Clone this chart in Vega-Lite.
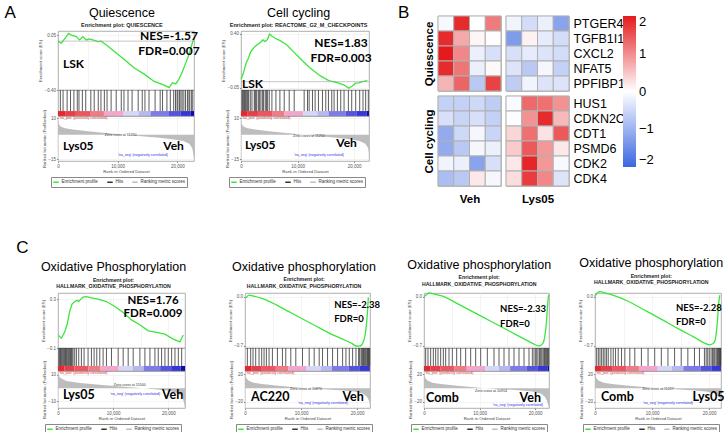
{
"$schema": "https://vega.github.io/schema/vega-lite/v6.json",
"padding": {"left": 4, "top": 4, "right": 2, "bottom": 2},
"background": "white",
"config": {
  "font": "Liberation Sans",
  "view": {"stroke": "#9a9a9a", "strokeWidth": 0.8},
  "axis": {"labelFontSize": 4.5, "titleFontSize": 4.2, "labelColor": "#555", "titleColor": "#444", "titleFontWeight": "normal", "tickSize": 1.5, "tickColor": "#888", "labelPadding": 1, "titlePadding": 1.5, "domain": false, "gridColor": "#ececec", "gridWidth": 0.6, "labelFlush": false, "labelOverlap": false},
  "title": {"font": "Liberation Sans", "color": "#000"},
  "legend": {"layout": {"bottom": {"anchor": "middle"}}}
},
"datasets": {
  "heat": [
    {"g":"Quiescence","gene":"PTGER4","c":"Veh","r":1,"v":-0.08},{"g":"Quiescence","gene":"PTGER4","c":"Veh","r":2,"v":1.85},{"g":"Quiescence","gene":"PTGER4","c":"Veh","r":3,"v":0.0},{"g":"Quiescence","gene":"PTGER4","c":"Veh","r":4,"v":1.15},
    {"g":"Quiescence","gene":"TGFB1I1","c":"Veh","r":1,"v":1.85},{"g":"Quiescence","gene":"TGFB1I1","c":"Veh","r":2,"v":0.75},{"g":"Quiescence","gene":"TGFB1I1","c":"Veh","r":3,"v":0.08},{"g":"Quiescence","gene":"TGFB1I1","c":"Veh","r":4,"v":0.02},
    {"g":"Quiescence","gene":"CXCL2","c":"Veh","r":1,"v":2.0},{"g":"Quiescence","gene":"CXCL2","c":"Veh","r":2,"v":1.05},{"g":"Quiescence","gene":"CXCL2","c":"Veh","r":3,"v":-0.2},{"g":"Quiescence","gene":"CXCL2","c":"Veh","r":4,"v":-0.4},
    {"g":"Quiescence","gene":"NFAT5","c":"Veh","r":1,"v":1.85},{"g":"Quiescence","gene":"NFAT5","c":"Veh","r":2,"v":1.2},{"g":"Quiescence","gene":"NFAT5","c":"Veh","r":3,"v":-0.2},{"g":"Quiescence","gene":"NFAT5","c":"Veh","r":4,"v":0.05},
    {"g":"Quiescence","gene":"PPFIBP1","c":"Veh","r":1,"v":0.65},{"g":"Quiescence","gene":"PPFIBP1","c":"Veh","r":2,"v":1.35},{"g":"Quiescence","gene":"PPFIBP1","c":"Veh","r":3,"v":-0.7},{"g":"Quiescence","gene":"PPFIBP1","c":"Veh","r":4,"v":1.65},
    {"g":"Quiescence","gene":"PTGER4","c":"Lys05","r":1,"v":-0.15},{"g":"Quiescence","gene":"PTGER4","c":"Lys05","r":2,"v":-0.45},{"g":"Quiescence","gene":"PTGER4","c":"Lys05","r":3,"v":-0.2},{"g":"Quiescence","gene":"PTGER4","c":"Lys05","r":4,"v":-1.2},
    {"g":"Quiescence","gene":"TGFB1I1","c":"Lys05","r":1,"v":-1.3},{"g":"Quiescence","gene":"TGFB1I1","c":"Lys05","r":2,"v":0.12},{"g":"Quiescence","gene":"TGFB1I1","c":"Lys05","r":3,"v":-0.25},{"g":"Quiescence","gene":"TGFB1I1","c":"Lys05","r":4,"v":-0.45},
    {"g":"Quiescence","gene":"CXCL2","c":"Lys05","r":1,"v":-0.4},{"g":"Quiescence","gene":"CXCL2","c":"Lys05","r":2,"v":-0.25},{"g":"Quiescence","gene":"CXCL2","c":"Lys05","r":3,"v":-0.35},{"g":"Quiescence","gene":"CXCL2","c":"Lys05","r":4,"v":-0.45},
    {"g":"Quiescence","gene":"NFAT5","c":"Lys05","r":1,"v":-0.35},{"g":"Quiescence","gene":"NFAT5","c":"Lys05","r":2,"v":-0.7},{"g":"Quiescence","gene":"NFAT5","c":"Lys05","r":3,"v":-0.1},{"g":"Quiescence","gene":"NFAT5","c":"Lys05","r":4,"v":-0.6},
    {"g":"Quiescence","gene":"PPFIBP1","c":"Lys05","r":1,"v":-0.65},{"g":"Quiescence","gene":"PPFIBP1","c":"Lys05","r":2,"v":-0.15},{"g":"Quiescence","gene":"PPFIBP1","c":"Lys05","r":3,"v":-0.35},{"g":"Quiescence","gene":"PPFIBP1","c":"Lys05","r":4,"v":-0.35},
    {"g":"Cell cycling","gene":"HUS1","c":"Veh","r":1,"v":-0.6},{"g":"Cell cycling","gene":"HUS1","c":"Veh","r":2,"v":-0.6},{"g":"Cell cycling","gene":"HUS1","c":"Veh","r":3,"v":-0.5},{"g":"Cell cycling","gene":"HUS1","c":"Veh","r":4,"v":-0.65},
    {"g":"Cell cycling","gene":"CDKN2C","c":"Veh","r":1,"v":-0.4},{"g":"Cell cycling","gene":"CDKN2C","c":"Veh","r":2,"v":-0.55},{"g":"Cell cycling","gene":"CDKN2C","c":"Veh","r":3,"v":-0.4},{"g":"Cell cycling","gene":"CDKN2C","c":"Veh","r":4,"v":-0.6},
    {"g":"Cell cycling","gene":"CDT1","c":"Veh","r":1,"v":-1.1},{"g":"Cell cycling","gene":"CDT1","c":"Veh","r":2,"v":-0.5},{"g":"Cell cycling","gene":"CDT1","c":"Veh","r":3,"v":-0.1},{"g":"Cell cycling","gene":"CDT1","c":"Veh","r":4,"v":-0.55},
    {"g":"Cell cycling","gene":"PSMD6","c":"Veh","r":1,"v":-1.1},{"g":"Cell cycling","gene":"PSMD6","c":"Veh","r":2,"v":-0.7},{"g":"Cell cycling","gene":"PSMD6","c":"Veh","r":3,"v":-0.1},{"g":"Cell cycling","gene":"PSMD6","c":"Veh","r":4,"v":-0.2},
    {"g":"Cell cycling","gene":"CDK2","c":"Veh","r":1,"v":-0.15},{"g":"Cell cycling","gene":"CDK2","c":"Veh","r":2,"v":-0.2},{"g":"Cell cycling","gene":"CDK2","c":"Veh","r":3,"v":-1.2},{"g":"Cell cycling","gene":"CDK2","c":"Veh","r":4,"v":-0.4},
    {"g":"Cell cycling","gene":"CDK4","c":"Veh","r":1,"v":-0.85},{"g":"Cell cycling","gene":"CDK4","c":"Veh","r":2,"v":-0.7},{"g":"Cell cycling","gene":"CDK4","c":"Veh","r":3,"v":0.2},{"g":"Cell cycling","gene":"CDK4","c":"Veh","r":4,"v":-0.1},
    {"g":"Cell cycling","gene":"HUS1","c":"Lys05","r":1,"v":-0.05},{"g":"Cell cycling","gene":"HUS1","c":"Lys05","r":2,"v":1.3},{"g":"Cell cycling","gene":"HUS1","c":"Lys05","r":3,"v":1.25},{"g":"Cell cycling","gene":"HUS1","c":"Lys05","r":4,"v":0.95},
    {"g":"Cell cycling","gene":"CDKN2C","c":"Lys05","r":1,"v":-0.02},{"g":"Cell cycling","gene":"CDKN2C","c":"Lys05","r":2,"v":0.95},{"g":"Cell cycling","gene":"CDKN2C","c":"Lys05","r":3,"v":1.85},{"g":"Cell cycling","gene":"CDKN2C","c":"Lys05","r":4,"v":0.6},
    {"g":"Cell cycling","gene":"CDT1","c":"Lys05","r":1,"v":0.35},{"g":"Cell cycling","gene":"CDT1","c":"Lys05","r":2,"v":1.25},{"g":"Cell cycling","gene":"CDT1","c":"Lys05","r":3,"v":0.25},{"g":"Cell cycling","gene":"CDT1","c":"Lys05","r":4,"v":1.45},
    {"g":"Cell cycling","gene":"PSMD6","c":"Lys05","r":1,"v":0.45},{"g":"Cell cycling","gene":"PSMD6","c":"Lys05","r":2,"v":1.45},{"g":"Cell cycling","gene":"PSMD6","c":"Lys05","r":3,"v":0.9},{"g":"Cell cycling","gene":"PSMD6","c":"Lys05","r":4,"v":0.2},
    {"g":"Cell cycling","gene":"CDK2","c":"Lys05","r":1,"v":0.2},{"g":"Cell cycling","gene":"CDK2","c":"Lys05","r":2,"v":1.9},{"g":"Cell cycling","gene":"CDK2","c":"Lys05","r":3,"v":0.9},{"g":"Cell cycling","gene":"CDK2","c":"Lys05","r":4,"v":-0.08},
    {"g":"Cell cycling","gene":"CDK4","c":"Lys05","r":1,"v":0.3},{"g":"Cell cycling","gene":"CDK4","c":"Lys05","r":2,"v":1.7},{"g":"Cell cycling","gene":"CDK4","c":"Lys05","r":3,"v":1.05},{"g":"Cell cycling","gene":"CDK4","c":"Lys05","r":4,"v":-0.35}
  ],
  "barA": [{"s":0,"e":1200,"v":1.0},{"s":1200,"e":3000,"v":0.9},{"s":3000,"e":5500,"v":0.8},{"s":5500,"e":7700,"v":0.65},{"s":7700,"e":11000,"v":0.35},{"s":11000,"e":13500,"v":0.0},{"s":13500,"e":15500,"v":-0.2},{"s":15500,"e":18500,"v":-0.45},{"s":18500,"e":20500,"v":-0.65},{"s":20500,"e":22200,"v":-0.8},{"s":22200,"e":23000,"v":-1.0}],
  "rankA": [{"rank":0,"m":9},{"rank":150,"m":6.5},{"rank":500,"m":5},{"rank":1200,"m":4},{"rank":2500,"m":3.2},{"rank":5000,"m":2.2},{"rank":8000,"m":1.1},{"rank":11250,"m":0},{"rank":14000,"m":-0.9},{"rank":17000,"m":-1.8},{"rank":19500,"m":-2.8},{"rank":21000,"m":-3.8},{"rank":22000,"m":-5.5},{"rank":22500,"m":-8},{"rank":22800,"m":-14}],
  "rankC1": [{"rank":0,"m":12},{"rank":300,"m":8},{"rank":1500,"m":5.5},{"rank":4000,"m":4},{"rank":8000,"m":2.5},{"rank":12000,"m":1},{"rank":15500,"m":0},{"rank":18000,"m":-1},{"rank":20000,"m":-2},{"rank":21500,"m":-3.5},{"rank":22500,"m":-6},{"rank":23000,"m":-14}],
  "rankC": [{"rank":0,"m":24},{"rank":200,"m":15},{"rank":600,"m":11},{"rank":1500,"m":8},{"rank":3000,"m":6},{"rank":6000,"m":3.5},{"rank":9000,"m":1.2},{"rank":10900,"m":0},{"rank":14000,"m":-1.5},{"rank":17000,"m":-3},{"rank":19500,"m":-5},{"rank":21000,"m":-8},{"rank":21800,"m":-13},{"rank":22100,"m":-18},{"rank":22500,"m":-28}],
  "esA1": [{"rank":0,"es":0.0},{"rank":111,"es":-0.004},{"rank":556,"es":-0.017},{"rank":1390,"es":0.037},{"rank":1779,"es":0.063},{"rank":2224,"es":0.05},{"rank":3058,"es":0.037},{"rank":3614,"es":0.01},{"rank":4170,"es":0.037},{"rank":4726,"es":0.01},{"rank":5282,"es":0.018},{"rank":5838,"es":0.01},{"rank":6672,"es":-0.004},{"rank":7228,"es":0.0},{"rank":8062,"es":-0.03},{"rank":9452,"es":-0.085},{"rank":11120,"es":-0.15},{"rank":12788,"es":-0.22},{"rank":14456,"es":-0.27},{"rank":16124,"es":-0.33},{"rank":17792,"es":-0.36},{"rank":18626,"es":-0.38},{"rank":19182,"es":-0.34},{"rank":19738,"es":-0.35},{"rank":20294,"es":-0.31},{"rank":20850,"es":-0.25},{"rank":21406,"es":-0.18},{"rank":21962,"es":-0.11},{"rank":22240,"es":-0.06},{"rank":22685,"es":0.01}],
  "esA2": [{"rank":0,"es":0.02},{"rank":415,"es":0.07},{"rank":890,"es":0.154},{"rank":1305,"es":0.196},{"rank":1720,"es":0.25},{"rank":2194,"es":0.28},{"rank":2787,"es":0.308},{"rank":3380,"es":0.327},{"rank":3855,"es":0.35},{"rank":4270,"es":0.336},{"rank":4685,"es":0.355},{"rank":5041,"es":0.40},{"rank":5456,"es":0.383},{"rank":6049,"es":0.364},{"rank":6938,"es":0.344},{"rank":8124,"es":0.308},{"rank":9310,"es":0.25},{"rank":10793,"es":0.18},{"rank":12275,"es":0.112},{"rank":14054,"es":0.048},{"rank":15537,"es":0.009},{"rank":17019,"es":-0.008},{"rank":18205,"es":-0.027},{"rank":19095,"es":-0.055},{"rank":19688,"es":-0.036},{"rank":20281,"es":-0.013},{"rank":20874,"es":-0.01},{"rank":21467,"es":0.0},{"rank":22356,"es":0.009}],
  "esC1": [{"rank":0,"es":0.0},{"rank":182,"es":0.0},{"rank":605,"es":-0.02},{"rank":1210,"es":0.03},{"rank":1694,"es":0.1},{"rank":2118,"es":0.2},{"rank":2541,"es":0.26},{"rank":3025,"es":0.28},{"rank":3509,"es":0.29},{"rank":3751,"es":0.28},{"rank":4114,"es":0.30},{"rank":4538,"es":0.316},{"rank":5143,"es":0.32},{"rank":6050,"es":0.31},{"rank":7260,"es":0.30},{"rank":8773,"es":0.28},{"rank":10285,"es":0.24},{"rank":11798,"es":0.19},{"rank":13310,"es":0.13},{"rank":14823,"es":0.09},{"rank":16335,"es":0.04},{"rank":17848,"es":0.027},{"rank":19360,"es":0.013},{"rank":20873,"es":-0.027},{"rank":22083,"es":-0.05},{"rank":22385,"es":-0.02},{"rank":22688,"es":0.005}],
  "esC2": [{"rank":0,"es":-0.01},{"rank":177,"es":-0.015},{"rank":649,"es":0.02},{"rank":1357,"es":0.01},{"rank":3127,"es":-0.03},{"rank":5487,"es":-0.115},{"rank":7847,"es":-0.215},{"rank":10207,"es":-0.315},{"rank":12567,"es":-0.415},{"rank":14927,"es":-0.515},{"rank":17287,"es":-0.6},{"rank":19057,"es":-0.665},{"rank":19942,"es":-0.705},{"rank":20532,"es":-0.70},{"rank":21122,"es":-0.64},{"rank":21535,"es":-0.49},{"rank":21830,"es":-0.24},{"rank":22007,"es":-0.015}],
  "esC3": [{"rank":0,"es":0.0},{"rank":300,"es":0.015},{"rank":900,"es":0.05},{"rank":1800,"es":0.035},{"rank":3600,"es":0.0},{"rank":6000,"es":-0.1},{"rank":8400,"es":-0.2},{"rank":10800,"es":-0.3},{"rank":13200,"es":-0.4},{"rank":15600,"es":-0.5},{"rank":18000,"es":-0.6},{"rank":19800,"es":-0.675},{"rank":20700,"es":-0.70},{"rank":21300,"es":-0.675},{"rank":21720,"es":-0.575},{"rank":22080,"es":-0.325},{"rank":22320,"es":-0.05},{"rank":22440,"es":0.025}],
  "esC4": [{"rank":0,"es":0.0},{"rank":116,"es":0.02},{"rank":873,"es":0.07},{"rank":1746,"es":0.05},{"rank":3492,"es":0.01},{"rank":5820,"es":-0.067},{"rank":8148,"es":-0.17},{"rank":10476,"es":-0.27},{"rank":12804,"es":-0.376},{"rank":15132,"es":-0.48},{"rank":17460,"es":-0.58},{"rank":19206,"es":-0.66},{"rank":20079,"es":-0.685},{"rank":20661,"es":-0.67},{"rank":21068,"es":-0.62},{"rank":21418,"es":-0.4},{"rank":21709,"es":-0.09},{"rank":21883,"es":0.02}],
  "hitsA1": [{"rank":397},{"rank":851},{"rank":1531},{"rank":2099},{"rank":2666},{"rank":3233},{"rank":3516},{"rank":4084},{"rank":4651},{"rank":5502},{"rank":6069},{"rank":6749},{"rank":7203},{"rank":7770},{"rank":8224},{"rank":8904},{"rank":9755},{"rank":10606},{"rank":11060},{"rank":11740},{"rank":12421},{"rank":13442},{"rank":14122},{"rank":14576},{"rank":15257},{"rank":16278},{"rank":17129},{"rank":17526},{"rank":18263},{"rank":18830},{"rank":19397},{"rank":19700},{"rank":19964},{"rank":20100},{"rank":20361},{"rank":20600},{"rank":20815},{"rank":21100},{"rank":21382},{"rank":21700},{"rank":21949},{"rank":22100},{"rank":22403},{"rank":22600}],
  "hitsA2": [{"rank":176},{"rank":300},{"rank":471},{"rank":600},{"rank":765},{"rank":900},{"rank":1059},{"rank":1200},{"rank":1353},{"rank":1647},{"rank":1941},{"rank":2353},{"rank":2500},{"rank":2647},{"rank":2800},{"rank":3118},{"rank":3300},{"rank":3530},{"rank":3824},{"rank":4000},{"rank":4295},{"rank":4500},{"rank":4707},{"rank":5001},{"rank":5471},{"rank":6177},{"rank":6883},{"rank":7648},{"rank":8531},{"rank":9413},{"rank":11178},{"rank":11766},{"rank":12060},{"rank":12649},{"rank":13119},{"rank":13708},{"rank":14414},{"rank":15002},{"rank":15473},{"rank":16061},{"rank":16473},{"rank":17061},{"rank":17649},{"rank":18237},{"rank":19002},{"rank":19591},{"rank":20297},{"rank":21003},{"rank":21591},{"rank":22061},{"rank":22532}],
  "hitsC1": [{"rank":150},{"rank":303},{"rank":450},{"rank":605},{"rank":750},{"rank":908},{"rank":1050},{"rank":1211},{"rank":1350},{"rank":1513},{"rank":1650},{"rank":1816},{"rank":1950},{"rank":2118},{"rank":2250},{"rank":2421},{"rank":2550},{"rank":2724},{"rank":3026},{"rank":3329},{"rank":3753},{"rank":4237},{"rank":4721},{"rank":5447},{"rank":6053},{"rank":6537},{"rank":7021},{"rank":7566},{"rank":8171},{"rank":8777},{"rank":9684},{"rank":10895},{"rank":11803},{"rank":12711},{"rank":13619},{"rank":14829},{"rank":15737},{"rank":16645},{"rank":17553},{"rank":18158},{"rank":18763},{"rank":19369},{"rank":19974},{"rank":20580},{"rank":21185},{"rank":21790},{"rank":22396}],
  "hitsC2": [{"rank":417},{"rank":1014},{"rank":1431},{"rank":1908},{"rank":2504},{"rank":2981},{"rank":3399},{"rank":3816},{"rank":4293},{"rank":4890},{"rank":5784},{"rank":6678},{"rank":7275},{"rank":8169},{"rank":9064},{"rank":10256},{"rank":11449},{"rank":12343},{"rank":13237},{"rank":13833},{"rank":14728},{"rank":15622},{"rank":16517},{"rank":17411},{"rank":18007},{"rank":18604},{"rank":19200},{"rank":19796},{"rank":20274},{"rank":20400},{"rank":20691},{"rank":20850},{"rank":20990},{"rank":21150},{"rank":21288},{"rank":21450},{"rank":21586},{"rank":21750},{"rank":21885},{"rank":21950},{"rank":22063},{"rank":22150},{"rank":22250}],
  "hitsC3": [{"rank":300},{"rank":720},{"rank":1200},{"rank":1680},{"rank":2100},{"rank":2520},{"rank":3000},{"rank":3480},{"rank":3900},{"rank":4500},{"rank":5100},{"rank":5880},{"rank":6600},{"rank":7500},{"rank":8400},{"rank":9300},{"rank":10200},{"rank":11400},{"rank":12600},{"rank":13500},{"rank":14400},{"rank":15300},{"rank":16200},{"rank":17100},{"rank":18000},{"rank":18900},{"rank":19500},{"rank":19800},{"rank":20100},{"rank":20300},{"rank":20520},{"rank":20800},{"rank":21000},{"rank":21200},{"rank":21420},{"rank":21600},{"rank":21720},{"rank":21900},{"rank":22020},{"rank":22200},{"rank":22320},{"rank":22450}],
  "hitsC4": [{"rank":291},{"rank":582},{"rank":872},{"rank":1163},{"rank":1454},{"rank":1745},{"rank":2036},{"rank":2326},{"rank":2792},{"rank":3199},{"rank":3606},{"rank":4071},{"rank":4653},{"rank":5234},{"rank":6107},{"rank":6979},{"rank":8142},{"rank":9306},{"rank":10469},{"rank":11632},{"rank":12795},{"rank":13958},{"rank":15122},{"rank":16285},{"rank":17448},{"rank":18320},{"rank":19193},{"rank":19500},{"rank":19774},{"rank":20050},{"rank":20356},{"rank":20600},{"rank":20821},{"rank":21000},{"rank":21228},{"rank":21400},{"rank":21519},{"rank":21650},{"rank":21810},{"rank":21900},{"rank":21984},{"rank":22050}]
},
"resolve": {"scale": {"color": "independent", "fill": "independent"}},
"align": "none",
"spacing": 34,
"vconcat": [
 {
  "resolve": {"scale": {"color": "independent", "fill": "independent"}},
  "align": "none",
  "spacing": 24,
  "hconcat": [
   {
    "resolve": {"scale": {"color": "independent", "fill": "independent"}},
    "spacing": 21,
    "hconcat": [
     {
      "title": {"text": "A", "orient": "left", "anchor": "end", "angle": 0, "baseline": "top", "align": "right", "fontSize": 17, "fontWeight": "normal", "offset": 11},
      "vconcat": [
       {
        "spacing": 0,
        "bounds": "flush",
        "vconcat": [
         {"width": 136, "height": 26, "view": {"stroke": null}, "layer": [
          {"data": {"values": [{}]}, "mark": {"type": "text", "fontSize": 12.5, "align": "center", "baseline": "middle", "color": "#000"}, "encoding": {"x": {"datum": 0.47, "type": "quantitative", "scale": {"domain": [0, 1]}, "axis": null}, "y": {"datum": 0.7, "type": "quantitative", "scale": {"domain": [0, 1]}, "axis": null}, "text": {"value": "Quiescence"}}},
          {"data": {"values": [{}]}, "mark": {"type": "text", "fontSize": 5.5, "fontWeight": "bold", "align": "center", "baseline": "middle", "color": "#222"}, "encoding": {"x": {"datum": 0.47}, "y": {"datum": 0.22}, "text": {"value": "Enrichment plot: QUIESCENCE"}}}
         ]},
         {"width": 136, "height": 59, "layer": [
          {"data": {"name": "esA1"}, "mark": {"type": "line", "strokeWidth": 1.3}, "encoding": {
            "x": {"field": "rank", "type": "quantitative", "scale": {"domain": [0, 22800], "nice": false, "zero": false}, "axis": {"labels": false, "ticks": false, "title": null, "grid": true, "values": [5000, 10000, 15000, 20000]}},
            "y": {"field": "es", "type": "quantitative", "scale": {"domain": [-0.4, 0.083], "nice": false, "zero": false}, "axis": {"title": "Enrichment score (ES)", "values": [0.05, 0, -0.05, -0.1, -0.15, -0.2, -0.25, -0.3, -0.35, -0.4], "format": ".2f", "grid": true, "labelOverlap": false}},
            "color": {"datum": "Enrichment profile", "type": "nominal", "scale": {"domain": ["Enrichment profile", "Hits", "Ranking metric scores"], "range": ["#3ce63c", "#333333", "#bdbdbd"]}, "legend": {"orient": "bottom", "direction": "horizontal", "title": null, "symbolType": "stroke", "symbolSize": 30, "symbolStrokeWidth": 1.5, "labelFontSize": 4.5, "labelColor": "#333", "strokeColor": "#888", "padding": 1.5, "columnPadding": 5, "labelOffset": 2, "offset": 2, "labelLimit": 80}}}},
          {"data": {"values": [{}]}, "mark": {"type": "rule", "color": "#a0a0a0", "strokeWidth": 0.6}, "encoding": {"y": {"datum": 0, "type": "quantitative"}}},
          {"data": {"values": [{}]}, "mark": {"type": "text", "font": "Lato", "fontWeight": "bold", "fontSize": 12, "align": "center", "baseline": "middle"}, "encoding": {"x": {"datum": 18600}, "y": {"datum": 0.042}, "text": {"value": "NES=-1.57"}}},
          {"data": {"values": [{}]}, "mark": {"type": "text", "font": "Lato", "fontWeight": "bold", "fontSize": 12, "align": "center", "baseline": "middle"}, "encoding": {"x": {"datum": 18600}, "y": {"datum": -0.081}, "text": {"value": "FDR=0.007"}}},
          {"data": {"values": [{}]}, "mark": {"type": "text", "font": "Lato", "fontWeight": "bold", "fontSize": 12, "align": "left", "baseline": "middle"}, "encoding": {"x": {"datum": 840}, "y": {"datum": -0.187}, "text": {"value": "LSK"}}}
         ]},
         {"width": 136, "height": 26, "layer": [
          {"data": {"name": "barA"}, "mark": {"type": "rect", "clip": true}, "encoding": {"x": {"field": "s", "type": "quantitative", "scale": {"domain": [0, 22800], "nice": false, "zero": false}, "axis": null}, "x2": {"field": "e"}, "y": {"datum": 0, "type": "quantitative", "scale": {"domain": [0, 1], "nice": false}, "axis": null}, "y2": {"datum": 0.19}, "fill": {"field": "v", "type": "quantitative", "scale": {"domain": [-1, -0.8, -0.5, -0.2, 0, 0.35, 0.65, 1], "range": ["#0b0bb0", "#3535d8", "#7070e6", "#b8b8f0", "#d6d6f6", "#f2a6cc", "#f07a86", "#e8262e"], "interpolate": "rgb"}, "legend": null}}},
          {"data": {"name": "hitsA1"}, "mark": {"type": "rule", "strokeWidth": 0.8}, "encoding": {"x": {"field": "rank", "type": "quantitative"}, "y": {"datum": 0.19}, "y2": {"datum": 1}, "color": {"datum": "Hits", "type": "nominal"}}}
         ]},
         {"width": 136, "height": 45, "layer": [
          {"data": {"name": "rankA"}, "mark": {"type": "area", "clip": true}, "encoding": {
            "x": {"field": "rank", "type": "quantitative", "scale": {"domain": [0, 22800], "nice": false, "zero": false}, "axis": {"title": "Rank in Ordered Dataset", "values": [0, 5000, 10000, 15000, 20000], "format": ",d", "grid": true, "labelOverlap": false}},
            "y": {"field": "m", "type": "quantitative", "scale": {"domain": [-16, 11.5], "nice": false, "zero": false}, "axis": {"title": "Ranked list metric (PreRanked)", "values": [10, 5, 0, -5, -10, -15], "format": "d", "grid": true, "labelOverlap": false}},
            "y2": {"datum": 0},
            "color": {"datum": "Ranking metric scores", "type": "nominal"}}},
          {"data": {"values": [{}]}, "mark": {"type": "text", "fontSize": 3.6, "align": "left", "baseline": "top", "color": "#e03030"}, "encoding": {"x": {"datum": 200}, "y": {"datum": 11.2}, "text": {"value": "'na_pos' (positively correlated)"}}},
          {"data": {"values": [{}]}, "mark": {"type": "text", "fontSize": 3.6, "align": "center", "baseline": "middle", "color": "#333"}, "encoding": {"x": {"datum": 10500}, "y": {"datum": -0.3}, "text": {"value": "Zero cross at 11250"}}},
          {"data": {"values": [{}]}, "mark": {"type": "text", "fontSize": 3.6, "align": "center", "baseline": "middle", "color": "#3030e0"}, "encoding": {"x": {"datum": 14250}, "y": {"datum": -12.3}, "text": {"value": "'na_neg' (negatively correlated)"}}},
          {"data": {"values": [{}]}, "mark": {"type": "text", "font": "Lato", "fontWeight": "bold", "fontSize": 12, "align": "left", "baseline": "middle"}, "encoding": {"x": {"datum": 840}, "y": {"datum": -6.8}, "text": {"value": "Lys05"}}},
          {"data": {"values": [{}]}, "mark": {"type": "text", "font": "Lato", "fontWeight": "bold", "fontSize": 12, "align": "right", "baseline": "middle"}, "encoding": {"x": {"datum": 21100}, "y": {"datum": -6.8}, "text": {"value": "Veh"}}}
         ]}
        ]
       }
      ]
     },
     {
      "spacing": 0,
      "bounds": "flush",
      "vconcat": [
       {"width": 128, "height": 26, "view": {"stroke": null}, "layer": [
        {"data": {"values": [{}]}, "mark": {"type": "text", "fontSize": 12.5, "align": "center", "baseline": "middle", "color": "#000"}, "encoding": {"x": {"datum": 0.45, "type": "quantitative", "scale": {"domain": [0, 1]}, "axis": null}, "y": {"datum": 0.7, "type": "quantitative", "scale": {"domain": [0, 1]}, "axis": null}, "text": {"value": "Cell cycling"}}},
        {"data": {"values": [{}]}, "mark": {"type": "text", "fontSize": 5.5, "fontWeight": "bold", "align": "center", "baseline": "middle", "color": "#222"}, "encoding": {"x": {"datum": 0.45}, "y": {"datum": 0.22}, "text": {"value": "Enrichment plot: REACTOME_G2_M_CHECKPOINTS"}}}
       ]},
       {"width": 128, "height": 59, "layer": [
        {"data": {"name": "esA2"}, "mark": {"type": "line", "strokeWidth": 1.3}, "encoding": {
          "x": {"field": "rank", "type": "quantitative", "scale": {"domain": [0, 22650], "nice": false, "zero": false}, "axis": {"labels": false, "ticks": false, "title": null, "grid": true, "values": [5000, 10000, 15000, 20000]}},
          "y": {"field": "es", "type": "quantitative", "scale": {"domain": [-0.07, 0.425], "nice": false, "zero": false}, "axis": {"title": "Enrichment score (ES)", "values": [0.4, 0.35, 0.3, 0.25, 0.2, 0.15, 0.1, 0.05, 0, -0.05], "format": ".2f", "grid": true, "labelOverlap": false}},
          "color": {"datum": "Enrichment profile", "type": "nominal", "scale": {"domain": ["Enrichment profile", "Hits", "Ranking metric scores"], "range": ["#3ce63c", "#333333", "#bdbdbd"]}, "legend": {"orient": "bottom", "direction": "horizontal", "title": null, "symbolType": "stroke", "symbolSize": 30, "symbolStrokeWidth": 1.5, "labelFontSize": 4.5, "labelColor": "#333", "strokeColor": "#888", "padding": 1.5, "columnPadding": 5, "labelOffset": 2, "offset": 2, "labelLimit": 80}}}},
        {"data": {"values": [{}]}, "mark": {"type": "rule", "color": "#a0a0a0", "strokeWidth": 0.6}, "encoding": {"y": {"datum": 0, "type": "quantitative"}}},
        {"data": {"values": [{}]}, "mark": {"type": "text", "font": "Lato", "fontWeight": "bold", "fontSize": 12, "align": "center", "baseline": "middle"}, "encoding": {"x": {"datum": 17700}, "y": {"datum": 0.324}, "text": {"value": "NES=1.83"}}},
        {"data": {"values": [{}]}, "mark": {"type": "text", "font": "Lato", "fontWeight": "bold", "fontSize": 12, "align": "center", "baseline": "middle"}, "encoding": {"x": {"datum": 17700}, "y": {"datum": 0.198}, "text": {"value": "FDR=0.003"}}},
        {"data": {"values": [{}]}, "mark": {"type": "text", "font": "Lato", "fontWeight": "bold", "fontSize": 12, "align": "left", "baseline": "middle"}, "encoding": {"x": {"datum": 180}, "y": {"datum": -0.02}, "text": {"value": "LSK"}}}
       ]},
       {"width": 128, "height": 26, "layer": [
        {"data": {"name": "barA"}, "mark": {"type": "rect", "clip": true}, "encoding": {"x": {"field": "s", "type": "quantitative", "scale": {"domain": [0, 22650], "nice": false, "zero": false}, "axis": null}, "x2": {"field": "e"}, "y": {"datum": 0, "type": "quantitative", "scale": {"domain": [0, 1], "nice": false}, "axis": null}, "y2": {"datum": 0.19}, "fill": {"field": "v", "type": "quantitative", "scale": {"domain": [-1, -0.8, -0.5, -0.2, 0, 0.35, 0.65, 1], "range": ["#0b0bb0", "#3535d8", "#7070e6", "#b8b8f0", "#d6d6f6", "#f2a6cc", "#f07a86", "#e8262e"], "interpolate": "rgb"}, "legend": null}}},
        {"data": {"name": "hitsA2"}, "mark": {"type": "rule", "strokeWidth": 0.8}, "encoding": {"x": {"field": "rank", "type": "quantitative"}, "y": {"datum": 0.19}, "y2": {"datum": 1}, "color": {"datum": "Hits", "type": "nominal"}}}
       ]},
       {"width": 128, "height": 45, "layer": [
        {"data": {"name": "rankA"}, "mark": {"type": "area", "clip": true}, "encoding": {
          "x": {"field": "rank", "type": "quantitative", "scale": {"domain": [0, 22650], "nice": false, "zero": false}, "axis": {"title": "Rank in Ordered Dataset", "values": [0, 5000, 10000, 15000, 20000], "format": ",d", "grid": true, "labelOverlap": false}},
          "y": {"field": "m", "type": "quantitative", "scale": {"domain": [-16, 11.5], "nice": false, "zero": false}, "axis": {"title": "Ranked list metric (PreRanked)", "values": [10, 5, 0, -5, -10, -15], "format": "d", "grid": true, "labelOverlap": false}},
          "y2": {"datum": 0},
          "color": {"datum": "Ranking metric scores", "type": "nominal"}}},
        {"data": {"values": [{}]}, "mark": {"type": "text", "fontSize": 3.6, "align": "left", "baseline": "top", "color": "#e03030"}, "encoding": {"x": {"datum": 200}, "y": {"datum": 11.2}, "text": {"value": "'na_pos' (positively correlated)"}}},
        {"data": {"values": [{}]}, "mark": {"type": "text", "fontSize": 3.6, "align": "center", "baseline": "middle", "color": "#333"}, "encoding": {"x": {"datum": 12000}, "y": {"datum": -0.7}, "text": {"value": "Zero cross at 11250"}}},
        {"data": {"values": [{}]}, "mark": {"type": "text", "fontSize": 3.6, "align": "center", "baseline": "middle", "color": "#3030e0"}, "encoding": {"x": {"datum": 13800}, "y": {"datum": -12.3}, "text": {"value": "'na_neg' (negatively correlated)"}}},
        {"data": {"values": [{}]}, "mark": {"type": "text", "font": "Lato", "fontWeight": "bold", "fontSize": 12, "align": "left", "baseline": "middle"}, "encoding": {"x": {"datum": 700}, "y": {"datum": -6.3}, "text": {"value": "Lys05"}}},
        {"data": {"values": [{}]}, "mark": {"type": "text", "font": "Lato", "fontWeight": "bold", "fontSize": 12, "align": "right", "baseline": "middle"}, "encoding": {"x": {"datum": 20500}, "y": {"datum": -5}, "text": {"value": "Veh"}}}
       ]}
      ]
     }
    ]
   },
   {
    "title": {"text": "B", "orient": "left", "anchor": "end", "angle": 0, "baseline": "top", "align": "right", "fontSize": 17, "fontWeight": "normal", "offset": 2},
    "resolve": {"scale": {"color": "independent"}},
    "spacing": 3,
    "vconcat": [
     {"width": 1, "height": 7, "view": {"stroke": null}, "data": {"values": [{}]}, "mark": {"type": "point", "opacity": 0}, "encoding": {}},
     {
      "spacing": 3,
      "vconcat": [
       {"spacing": 3, "hconcat": [
        {"width": 63, "height": 75, "data": {"name": "heat"}, "transform": [{"filter": "datum.g == 'Quiescence' && datum.c == 'Veh'"}],
         "mark": {"type": "rect", "stroke": "#b0b0b0", "strokeWidth": 1},
         "encoding": {"x": {"field": "r", "type": "ordinal", "axis": null},
          "y": {"field": "gene", "type": "nominal", "sort": ["PTGER4", "TGFB1I1", "CXCL2", "NFAT5", "PPFIBP1"], "axis": {"title": "Quiescence", "labels": false, "ticks": false, "domain": false, "grid": false, "titleFontSize": 11.5, "titleFontWeight": "bold", "titleColor": "#000", "titlePadding": 4}},
          "color": {"field": "v", "type": "quantitative", "scale": {"domain": [-2, 0, 2], "range": ["#3a66e0", "#ffffff", "#e41a1c"], "interpolate": "rgb"}, "legend": {"title": null, "orient": "right", "direction": "vertical", "gradientLength": 151, "gradientThickness": 13, "labelFontSize": 13, "labelColor": "#000", "values": [-2, -1, 0, 1, 2], "offset": -2.5, "labelOffset": 3, "gradientStrokeWidth": 0}}}},
        {"width": 63, "height": 75, "data": {"name": "heat"}, "transform": [{"filter": "datum.g == 'Quiescence' && datum.c == 'Lys05'"}],
         "mark": {"type": "rect", "stroke": "#b0b0b0", "strokeWidth": 1},
         "encoding": {"x": {"field": "r", "type": "ordinal", "axis": null},
          "y": {"field": "gene", "type": "nominal", "sort": ["PTGER4", "TGFB1I1", "CXCL2", "NFAT5", "PPFIBP1"], "axis": {"orient": "right", "title": null, "ticks": false, "domain": false, "grid": false, "labelFontSize": 12.5, "labelColor": "#000", "labelPadding": 4}},
          "color": {"field": "v", "type": "quantitative"}}}
       ]},
       {"spacing": 3, "hconcat": [
        {"width": 63, "height": 90, "data": {"name": "heat"}, "transform": [{"filter": "datum.g == 'Cell cycling' && datum.c == 'Veh'"}],
         "mark": {"type": "rect", "stroke": "#b0b0b0", "strokeWidth": 1},
         "encoding": {"x": {"field": "r", "type": "ordinal", "axis": {"title": "Veh", "labels": false, "ticks": false, "domain": false, "grid": false, "titleFontSize": 11.5, "titleFontWeight": "bold", "titleColor": "#000", "titlePadding": 7}},
          "y": {"field": "gene", "type": "nominal", "sort": ["HUS1", "CDKN2C", "CDT1", "PSMD6", "CDK2", "CDK4"], "axis": {"title": "Cell cycling", "labels": false, "ticks": false, "domain": false, "grid": false, "titleFontSize": 11.5, "titleFontWeight": "bold", "titleColor": "#000", "titlePadding": 4}},
          "color": {"field": "v", "type": "quantitative"}}},
        {"width": 63, "height": 90, "data": {"name": "heat"}, "transform": [{"filter": "datum.g == 'Cell cycling' && datum.c == 'Lys05'"}],
         "mark": {"type": "rect", "stroke": "#b0b0b0", "strokeWidth": 1},
         "encoding": {"x": {"field": "r", "type": "ordinal", "axis": {"title": "Lys05", "labels": false, "ticks": false, "domain": false, "grid": false, "titleFontSize": 11.5, "titleFontWeight": "bold", "titleColor": "#000", "titlePadding": 7}},
          "y": {"field": "gene", "type": "nominal", "sort": ["HUS1", "CDKN2C", "CDT1", "PSMD6", "CDK2", "CDK4"], "axis": {"orient": "right", "title": null, "ticks": false, "domain": false, "grid": false, "labelFontSize": 12.5, "labelColor": "#000", "labelPadding": 4}},
          "color": {"field": "v", "type": "quantitative"}}}
       ]}
      ]
     }
    ]
   }
  ]
 },
 {
  "title": {"text": "C", "orient": "left", "anchor": "end", "angle": 0, "baseline": "bottom", "align": "right", "fontSize": 17, "fontWeight": "normal", "offset": 0},
  "resolve": {"scale": {"color": "independent", "fill": "independent"}},
  "align": "none",
  "spacing": 40,
  "hconcat": [
   {
    "title": {"text": "Oxidative Phosphorylation", "subtitle": ["Enrichment plot:", "HALLMARK_OXIDATIVE_PHOSPHORYLATION"], "fontSize": 12.5, "fontWeight": "normal", "subtitleFontSize": 5.2, "subtitleLineHeight": 6.5, "subtitleFontWeight": "bold", "subtitleColor": "#222", "subtitlePadding": 4, "offset": 3, "anchor": "middle"},
    "spacing": 0,
    "bounds": "flush",
    "vconcat": [
     {"width": 127, "height": 55, "layer": [
      {"data": {"name": "esC1"}, "mark": {"type": "line", "strokeWidth": 1.3}, "encoding": {
        "x": {"field": "rank", "type": "quantitative", "scale": {"domain": [0, 23000], "nice": false, "zero": false}, "axis": {"labels": false, "ticks": false, "title": null, "grid": true, "values": [5000, 10000, 15000, 20000]}},
        "y": {"field": "es", "type": "quantitative", "scale": {"domain": [-0.1, 0.35], "nice": false, "zero": false}, "axis": {"title": "Enrichment score (ES)", "values": [0.3, 0.2, 0.1, 0, -0.1], "format": ".1f", "grid": true, "labelOverlap": false}},
        "color": {"datum": "Enrichment profile", "type": "nominal", "scale": {"domain": ["Enrichment profile", "Hits", "Ranking metric scores"], "range": ["#3ce63c", "#333333", "#bdbdbd"]}, "legend": {"orient": "bottom", "direction": "horizontal", "title": null, "symbolType": "stroke", "symbolSize": 30, "symbolStrokeWidth": 1.5, "labelFontSize": 4.5, "labelColor": "#333", "strokeColor": "#888", "padding": 1.5, "columnPadding": 5, "labelOffset": 2, "offset": 2, "labelLimit": 80}}}},
      {"data": {"values": [{}]}, "mark": {"type": "text", "font": "Lato", "fontWeight": "bold", "fontSize": 11.5, "align": "center", "baseline": "middle"}, "encoding": {"x": {"datum": 17200}, "y": {"datum": 0.285}, "text": {"value": "NES=1.76"}}},
      {"data": {"values": [{}]}, "mark": {"type": "text", "font": "Lato", "fontWeight": "bold", "fontSize": 11.5, "align": "center", "baseline": "middle"}, "encoding": {"x": {"datum": 17200}, "y": {"datum": 0.178}, "text": {"value": "FDR=0.009"}}}
     ]},
     {"width": 127, "height": 23, "layer": [
      {"data": {"name": "barA"}, "mark": {"type": "rect", "clip": true}, "encoding": {"x": {"field": "s", "type": "quantitative", "scale": {"domain": [0, 23000], "nice": false, "zero": false}, "axis": null}, "x2": {"field": "e"}, "y": {"datum": 0, "type": "quantitative", "scale": {"domain": [0, 1], "nice": false}, "axis": null}, "y2": {"datum": 0.22}, "fill": {"field": "v", "type": "quantitative", "scale": {"domain": [-1, -0.8, -0.5, -0.2, 0, 0.35, 0.65, 1], "range": ["#0b0bb0", "#3535d8", "#7070e6", "#b8b8f0", "#d6d6f6", "#f2a6cc", "#f07a86", "#e8262e"], "interpolate": "rgb"}, "legend": null}}},
      {"data": {"name": "hitsC1"}, "mark": {"type": "rule", "strokeWidth": 0.8}, "encoding": {"x": {"field": "rank", "type": "quantitative"}, "y": {"datum": 0.22}, "y2": {"datum": 1}, "color": {"datum": "Hits", "type": "nominal"}}}
     ]},
     {"width": 127, "height": 37, "layer": [
      {"data": {"name": "rankC1"}, "mark": {"type": "area", "clip": true}, "encoding": {
        "x": {"field": "rank", "type": "quantitative", "scale": {"domain": [0, 23000], "nice": false, "zero": false}, "axis": {"title": "Rank in Ordered Dataset", "values": [0, 5000, 10000, 15000, 20000], "format": ",d", "grid": true, "labelOverlap": false}},
        "y": {"field": "m", "type": "quantitative", "scale": {"domain": [-15, 13], "nice": false, "zero": false}, "axis": {"title": "Ranked list metric (PreRanked)", "values": [10, 5, 0, -5, -10], "format": "d", "grid": true, "labelOverlap": false}},
        "y2": {"datum": 0},
        "color": {"datum": "Ranking metric scores", "type": "nominal"}}},
      {"data": {"values": [{}]}, "mark": {"type": "text", "fontSize": 3.6, "align": "left", "baseline": "top", "color": "#e03030"}, "encoding": {"x": {"datum": 200}, "y": {"datum": 12.7}, "text": {"value": "'na_pos' (positively correlated)"}}},
      {"data": {"values": [{}]}, "mark": {"type": "text", "fontSize": 3.6, "align": "center", "baseline": "middle", "color": "#333"}, "encoding": {"x": {"datum": 13000}, "y": {"datum": 2.4}, "text": {"value": "Zero cross at 15500"}}},
      {"data": {"values": [{}]}, "mark": {"type": "text", "fontSize": 3.6, "align": "center", "baseline": "middle", "color": "#3030e0"}, "encoding": {"x": {"datum": 14000}, "y": {"datum": -4.2}, "text": {"value": "'na_neg' (negatively correlated)"}}},
      {"data": {"values": [{}]}, "mark": {"type": "text", "font": "Lato", "fontWeight": "bold", "fontSize": 12.5, "align": "left", "baseline": "middle"}, "encoding": {"x": {"datum": 900}, "y": {"datum": -5.2}, "text": {"value": "Lys05"}}},
      {"data": {"values": [{}]}, "mark": {"type": "text", "font": "Lato", "fontWeight": "bold", "fontSize": 12.5, "align": "right", "baseline": "middle"}, "encoding": {"x": {"datum": 22700}, "y": {"datum": -5.2}, "text": {"value": "Veh"}}}
     ]}
    ]
   },
   {
    "resolve": {"scale": {"color": "independent", "fill": "independent"}},
    "spacing": 25,
    "hconcat": [
     {
      "title": {"text": "Oxidative phosphorylation", "subtitle": ["Enrichment plot:", "HALLMARK_OXIDATIVE_PHOSPHORYLATION"], "fontSize": 12.5, "fontWeight": "normal", "subtitleFontSize": 5.2, "subtitleLineHeight": 6.5, "subtitleFontWeight": "bold", "subtitleColor": "#222", "subtitlePadding": 4, "offset": 3, "anchor": "middle"},
      "spacing": 0,
      "bounds": "flush",
      "vconcat": [
       {"width": 125, "height": 55, "layer": [
        {"data": {"name": "esC2"}, "mark": {"type": "line", "strokeWidth": 1.3, "interpolate": "monotone"}, "encoding": {
          "x": {"field": "rank", "type": "quantitative", "scale": {"domain": [0, 22300], "nice": false, "zero": false}, "axis": {"labels": false, "ticks": false, "title": null, "grid": true, "values": [5000, 10000, 15000, 20000]}},
          "y": {"field": "es", "type": "quantitative", "scale": {"domain": [-0.73, 0.05], "nice": false, "zero": false}, "axis": {"title": "Enrichment score (ES)", "values": [0, -0.1, -0.2, -0.3, -0.4, -0.5, -0.6, -0.7], "format": ".1f", "grid": true, "labelOverlap": false}},
          "color": {"datum": "Enrichment profile", "type": "nominal", "scale": {"domain": ["Enrichment profile", "Hits", "Ranking metric scores"], "range": ["#3ce63c", "#333333", "#bdbdbd"]}, "legend": {"orient": "bottom", "direction": "horizontal", "title": null, "symbolType": "stroke", "symbolSize": 30, "symbolStrokeWidth": 1.5, "labelFontSize": 4.5, "labelColor": "#333", "strokeColor": "#888", "padding": 1.5, "columnPadding": 5, "labelOffset": 2, "offset": 2, "labelLimit": 80}}}},
        {"data": {"values": [{}]}, "mark": {"type": "text", "font": "Lato", "fontWeight": "bold", "fontSize": 9.5, "align": "left", "baseline": "middle"}, "encoding": {"x": {"datum": 15900}, "y": {"datum": -0.123}, "text": {"value": "NES=-2.38"}}},
        {"data": {"values": [{}]}, "mark": {"type": "text", "font": "Lato", "fontWeight": "bold", "fontSize": 9.5, "align": "left", "baseline": "middle"}, "encoding": {"x": {"datum": 15900}, "y": {"datum": -0.325}, "text": {"value": "FDR=0"}}}
       ]},
       {"width": 125, "height": 23, "layer": [
        {"data": {"name": "barA"}, "mark": {"type": "rect", "clip": true}, "encoding": {"x": {"field": "s", "type": "quantitative", "scale": {"domain": [0, 22300], "nice": false, "zero": false}, "axis": null}, "x2": {"field": "e"}, "y": {"datum": 0, "type": "quantitative", "scale": {"domain": [0, 1], "nice": false}, "axis": null}, "y2": {"datum": 0.22}, "fill": {"field": "v", "type": "quantitative", "scale": {"domain": [-1, -0.8, -0.5, -0.2, 0, 0.35, 0.65, 1], "range": ["#0b0bb0", "#3535d8", "#7070e6", "#b8b8f0", "#d6d6f6", "#f2a6cc", "#f07a86", "#e8262e"], "interpolate": "rgb"}, "legend": null}}},
        {"data": {"name": "hitsC2"}, "mark": {"type": "rule", "strokeWidth": 0.8}, "encoding": {"x": {"field": "rank", "type": "quantitative"}, "y": {"datum": 0.22}, "y2": {"datum": 1}, "color": {"datum": "Hits", "type": "nominal"}}}
       ]},
       {"width": 125, "height": 37, "layer": [
        {"data": {"name": "rankC"}, "mark": {"type": "area", "clip": true}, "encoding": {
          "x": {"field": "rank", "type": "quantitative", "scale": {"domain": [0, 22300], "nice": false, "zero": false}, "axis": {"title": "Rank in Ordered Dataset", "values": [0, 5000, 10000, 15000, 20000], "format": ",d", "grid": true, "labelOverlap": false}},
          "y": {"field": "m", "type": "quantitative", "scale": {"domain": [-29, 25], "nice": false, "zero": false}, "axis": {"title": "Ranked list metric (PreRanked)", "values": [20, 10, 0, -10, -20], "format": "d", "grid": true, "labelOverlap": false}},
          "y2": {"datum": 0},
          "color": {"datum": "Ranking metric scores", "type": "nominal"}}},
        {"data": {"values": [{}]}, "mark": {"type": "text", "fontSize": 3.6, "align": "left", "baseline": "top", "color": "#e03030"}, "encoding": {"x": {"datum": 200}, "y": {"datum": 24.3}, "text": {"value": "'na_pos' (positively correlated)"}}},
        {"data": {"values": [{}]}, "mark": {"type": "text", "fontSize": 3.6, "align": "center", "baseline": "middle", "color": "#333"}, "encoding": {"x": {"datum": 10900}, "y": {"datum": -1.3}, "text": {"value": "Zero cross at 10870"}}},
        {"data": {"values": [{}]}, "mark": {"type": "text", "fontSize": 3.6, "align": "center", "baseline": "middle", "color": "#3030e0"}, "encoding": {"x": {"datum": 13900}, "y": {"datum": -21.7}, "text": {"value": "'na_neg' (negatively correlated)"}}},
        {"data": {"values": [{}]}, "mark": {"type": "text", "font": "Lato", "fontWeight": "bold", "fontSize": 12.5, "align": "left", "baseline": "middle"}, "encoding": {"x": {"datum": 1070}, "y": {"datum": -13}, "text": {"value": "AC220"}}},
        {"data": {"values": [{}]}, "mark": {"type": "text", "font": "Lato", "fontWeight": "bold", "fontSize": 12.5, "align": "right", "baseline": "middle"}, "encoding": {"x": {"datum": 21200}, "y": {"datum": -13}, "text": {"value": "Veh"}}}
       ]}
      ]
     },
     {
      "title": {"text": "Oxidative phosphorylation", "subtitle": ["Enrichment plot:", "HALLMARK_OXIDATIVE_PHOSPHORYLATION"], "fontSize": 12.5, "fontWeight": "normal", "subtitleFontSize": 5.2, "subtitleLineHeight": 6.5, "subtitleFontWeight": "bold", "subtitleColor": "#222", "subtitlePadding": 4, "offset": 3, "anchor": "middle"},
      "spacing": 0,
      "bounds": "flush",
      "vconcat": [
       {"width": 125, "height": 55, "layer": [
        {"data": {"name": "esC3"}, "mark": {"type": "line", "strokeWidth": 1.3, "interpolate": "monotone"}, "encoding": {
          "x": {"field": "rank", "type": "quantitative", "scale": {"domain": [0, 22500], "nice": false, "zero": false}, "axis": {"labels": false, "ticks": false, "title": null, "grid": true, "values": [5000, 10000, 15000, 20000]}},
          "y": {"field": "es", "type": "quantitative", "scale": {"domain": [-0.73, 0.05], "nice": false, "zero": false}, "axis": {"title": "Enrichment score (ES)", "values": [0, -0.1, -0.2, -0.3, -0.4, -0.5, -0.6, -0.7], "format": ".1f", "grid": true, "labelOverlap": false}},
          "color": {"datum": "Enrichment profile", "type": "nominal", "scale": {"domain": ["Enrichment profile", "Hits", "Ranking metric scores"], "range": ["#3ce63c", "#333333", "#bdbdbd"]}, "legend": {"orient": "bottom", "direction": "horizontal", "title": null, "symbolType": "stroke", "symbolSize": 30, "symbolStrokeWidth": 1.5, "labelFontSize": 4.5, "labelColor": "#333", "strokeColor": "#888", "padding": 1.5, "columnPadding": 5, "labelOffset": 2, "offset": 2, "labelLimit": 80}}}},
        {"data": {"values": [{}]}, "mark": {"type": "text", "font": "Lato", "fontWeight": "bold", "fontSize": 9.5, "align": "left", "baseline": "middle"}, "encoding": {"x": {"datum": 13700}, "y": {"datum": -0.181}, "text": {"value": "NES=-2.33"}}},
        {"data": {"values": [{}]}, "mark": {"type": "text", "font": "Lato", "fontWeight": "bold", "fontSize": 9.5, "align": "left", "baseline": "middle"}, "encoding": {"x": {"datum": 13700}, "y": {"datum": -0.383}, "text": {"value": "FDR=0"}}}
       ]},
       {"width": 125, "height": 23, "layer": [
        {"data": {"name": "barA"}, "mark": {"type": "rect", "clip": true}, "encoding": {"x": {"field": "s", "type": "quantitative", "scale": {"domain": [0, 22500], "nice": false, "zero": false}, "axis": null}, "x2": {"field": "e"}, "y": {"datum": 0, "type": "quantitative", "scale": {"domain": [0, 1], "nice": false}, "axis": null}, "y2": {"datum": 0.22}, "fill": {"field": "v", "type": "quantitative", "scale": {"domain": [-1, -0.8, -0.5, -0.2, 0, 0.35, 0.65, 1], "range": ["#0b0bb0", "#3535d8", "#7070e6", "#b8b8f0", "#d6d6f6", "#f2a6cc", "#f07a86", "#e8262e"], "interpolate": "rgb"}, "legend": null}}},
        {"data": {"name": "hitsC3"}, "mark": {"type": "rule", "strokeWidth": 0.8}, "encoding": {"x": {"field": "rank", "type": "quantitative"}, "y": {"datum": 0.22}, "y2": {"datum": 1}, "color": {"datum": "Hits", "type": "nominal"}}}
       ]},
       {"width": 125, "height": 37, "layer": [
        {"data": {"name": "rankC"}, "mark": {"type": "area", "clip": true}, "encoding": {
          "x": {"field": "rank", "type": "quantitative", "scale": {"domain": [0, 22500], "nice": false, "zero": false}, "axis": {"title": "Rank in Ordered Dataset", "values": [0, 5000, 10000, 15000, 20000], "format": ",d", "grid": true, "labelOverlap": false}},
          "y": {"field": "m", "type": "quantitative", "scale": {"domain": [-29, 25], "nice": false, "zero": false}, "axis": {"title": "Ranked list metric (PreRanked)", "values": [20, 10, 0, -10, -20], "format": "d", "grid": true, "labelOverlap": false}},
          "y2": {"datum": 0},
          "color": {"datum": "Ranking metric scores", "type": "nominal"}}},
        {"data": {"values": [{}]}, "mark": {"type": "text", "fontSize": 3.6, "align": "left", "baseline": "top", "color": "#e03030"}, "encoding": {"x": {"datum": 200}, "y": {"datum": 24.3}, "text": {"value": "'na_pos' (positively correlated)"}}},
        {"data": {"values": [{}]}, "mark": {"type": "text", "fontSize": 3.6, "align": "center", "baseline": "middle", "color": "#333"}, "encoding": {"x": {"datum": 12060}, "y": {"datum": -4.2}, "text": {"value": "Zero cross at 10914"}}},
        {"data": {"values": [{}]}, "mark": {"type": "text", "fontSize": 3.6, "align": "center", "baseline": "middle", "color": "#3030e0"}, "encoding": {"x": {"datum": 16900}, "y": {"datum": -24.6}, "text": {"value": "'na_neg' (negatively correlated)"}}},
        {"data": {"values": [{}]}, "mark": {"type": "text", "font": "Lato", "fontWeight": "bold", "fontSize": 12.5, "align": "left", "baseline": "middle"}, "encoding": {"x": {"datum": 360}, "y": {"datum": -14.5}, "text": {"value": "Comb"}}},
        {"data": {"values": [{}]}, "mark": {"type": "text", "font": "Lato", "fontWeight": "bold", "fontSize": 12.5, "align": "right", "baseline": "middle"}, "encoding": {"x": {"datum": 21060}, "y": {"datum": -14.5}, "text": {"value": "Veh"}}}
       ]}
      ]
     },
     {
      "title": {"text": "Oxidative phosphorylation", "subtitle": ["Enrichment plot:", "HALLMARK_OXIDATIVE_PHOSPHORYLATION"], "fontSize": 12.5, "fontWeight": "normal", "subtitleFontSize": 5.2, "subtitleLineHeight": 6.5, "subtitleFontWeight": "bold", "subtitleColor": "#222", "subtitlePadding": 4, "offset": 3, "anchor": "middle"},
      "spacing": 0,
      "bounds": "flush",
      "vconcat": [
       {"width": 126, "height": 55, "layer": [
        {"data": {"name": "esC4"}, "mark": {"type": "line", "strokeWidth": 1.3, "interpolate": "monotone"}, "encoding": {
          "x": {"field": "rank", "type": "quantitative", "scale": {"domain": [0, 22100], "nice": false, "zero": false}, "axis": {"labels": false, "ticks": false, "title": null, "grid": true, "values": [5000, 10000, 15000, 20000]}},
          "y": {"field": "es", "type": "quantitative", "scale": {"domain": [-0.73, 0.05], "nice": false, "zero": false}, "axis": {"title": "Enrichment score (ES)", "values": [0, -0.1, -0.2, -0.3, -0.4, -0.5, -0.6, -0.7], "format": ".1f", "grid": true, "labelOverlap": false}},
          "color": {"datum": "Enrichment profile", "type": "nominal", "scale": {"domain": ["Enrichment profile", "Hits", "Ranking metric scores"], "range": ["#3ce63c", "#333333", "#bdbdbd"]}, "legend": {"orient": "bottom", "direction": "horizontal", "title": null, "symbolType": "stroke", "symbolSize": 30, "symbolStrokeWidth": 1.5, "labelFontSize": 4.5, "labelColor": "#333", "strokeColor": "#888", "padding": 1.5, "columnPadding": 5, "labelOffset": 2, "offset": 2, "labelLimit": 80}}}},
        {"data": {"values": [{}]}, "mark": {"type": "text", "font": "Lato", "fontWeight": "bold", "fontSize": 9.5, "align": "left", "baseline": "middle"}, "encoding": {"x": {"datum": 14200}, "y": {"datum": -0.166}, "text": {"value": "NES=-2.28"}}},
        {"data": {"values": [{}]}, "mark": {"type": "text", "font": "Lato", "fontWeight": "bold", "fontSize": 9.5, "align": "left", "baseline": "middle"}, "encoding": {"x": {"datum": 14200}, "y": {"datum": -0.368}, "text": {"value": "FDR=0"}}}
       ]},
       {"width": 126, "height": 23, "layer": [
        {"data": {"name": "barA"}, "mark": {"type": "rect", "clip": true}, "encoding": {"x": {"field": "s", "type": "quantitative", "scale": {"domain": [0, 22100], "nice": false, "zero": false}, "axis": null}, "x2": {"field": "e"}, "y": {"datum": 0, "type": "quantitative", "scale": {"domain": [0, 1], "nice": false}, "axis": null}, "y2": {"datum": 0.22}, "fill": {"field": "v", "type": "quantitative", "scale": {"domain": [-1, -0.8, -0.5, -0.2, 0, 0.35, 0.65, 1], "range": ["#0b0bb0", "#3535d8", "#7070e6", "#b8b8f0", "#d6d6f6", "#f2a6cc", "#f07a86", "#e8262e"], "interpolate": "rgb"}, "legend": null}}},
        {"data": {"name": "hitsC4"}, "mark": {"type": "rule", "strokeWidth": 0.8}, "encoding": {"x": {"field": "rank", "type": "quantitative"}, "y": {"datum": 0.22}, "y2": {"datum": 1}, "color": {"datum": "Hits", "type": "nominal"}}}
       ]},
       {"width": 126, "height": 37, "layer": [
        {"data": {"name": "rankC"}, "mark": {"type": "area", "clip": true}, "encoding": {
          "x": {"field": "rank", "type": "quantitative", "scale": {"domain": [0, 22100], "nice": false, "zero": false}, "axis": {"title": "Rank in Ordered Dataset", "values": [0, 5000, 10000, 15000, 20000], "format": ",d", "grid": true, "labelOverlap": false}},
          "y": {"field": "m", "type": "quantitative", "scale": {"domain": [-29, 25], "nice": false, "zero": false}, "axis": {"title": "Ranked list metric (PreRanked)", "values": [20, 10, 0, -10, -20], "format": "d", "grid": true, "labelOverlap": false}},
          "y2": {"datum": 0},
          "color": {"datum": "Ranking metric scores", "type": "nominal"}}},
        {"data": {"values": [{}]}, "mark": {"type": "text", "fontSize": 3.6, "align": "left", "baseline": "top", "color": "#e03030"}, "encoding": {"x": {"datum": 200}, "y": {"datum": 24.3}, "text": {"value": "'na_pos' (positively correlated)"}}},
        {"data": {"values": [{}]}, "mark": {"type": "text", "fontSize": 3.6, "align": "center", "baseline": "middle", "color": "#333"}, "encoding": {"x": {"datum": 11050}, "y": {"datum": -1.3}, "text": {"value": "Zero cross at 11227"}}},
        {"data": {"values": [{}]}, "mark": {"type": "text", "fontSize": 3.6, "align": "center", "baseline": "middle", "color": "#3030e0"}, "encoding": {"x": {"datum": 12800}, "y": {"datum": -21.7}, "text": {"value": "'na_neg' (negatively correlated)"}}},
        {"data": {"values": [{}]}, "mark": {"type": "text", "font": "Lato", "fontWeight": "bold", "fontSize": 12.5, "align": "left", "baseline": "middle"}, "encoding": {"x": {"datum": 1050}, "y": {"datum": -13}, "text": {"value": "Comb"}}},
        {"data": {"values": [{}]}, "mark": {"type": "text", "font": "Lato", "fontWeight": "bold", "fontSize": 12.5, "align": "right", "baseline": "middle"}, "encoding": {"x": {"datum": 22700}, "y": {"datum": -13}, "text": {"value": "Lys05"}}}
       ]}
      ]
     }
    ]
   }
  ]
 }
]
}
